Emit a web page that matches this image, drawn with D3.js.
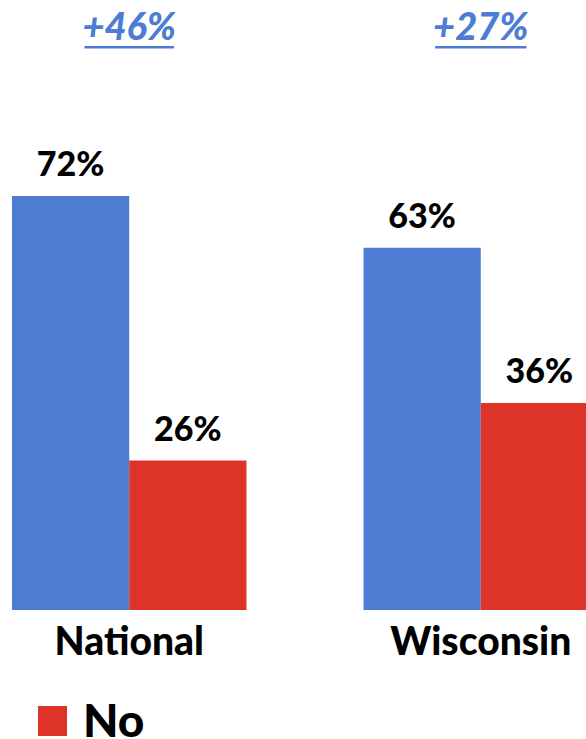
<!DOCTYPE html>
<html>
<head>
<meta charset="utf-8">
<script src="https://cdn.jsdelivr.net/npm/d3@7"></script>
<style>
  body { margin: 0; background: #fff; }
  svg { display: block; font-family: Lato, "Open Sans", sans-serif; }
</style>
</head>
<body>
<div id="chart"></div>
<script>
const categories = ["National", "Wisconsin"];
const seriesNames = ["Yes", "No"];
const yesValues = [72, 63];
const noValues = [26, 36];
const marginLabels = ["+46%", "+27%"];

const width = 586;
const height = 739;
const blue = "#4d7dd3";
const red = "#dd3328";
const heavy = 900;

const svg = d3.select("#chart")
    .append("svg")
    .attr("width", width)
    .attr("height", height);

// the plot runs past the right edge, like the cropped original
const x = d3.scaleBand()
    .domain(categories)
    .range([12, 598])
    .paddingInner(0.333)
    .paddingOuter(0);

const xSub = d3.scaleBand()
    .domain(seriesNames)
    .range([0, x.bandwidth()]);

const y = d3.scaleLinear()
    .domain([0, 100])
    .range([610, 35]);

const colour = d3.scaleOrdinal().domain(seriesNames).range([blue, red]);

const rows = categories.map((c, i) => ({
    category: c,
    margin: marginLabels[i],
    values: [
        { key: "Yes", value: yesValues[i] },
        { key: "No", value: noValues[i] }
    ]
}));

const group = svg.selectAll("g.group")
    .data(rows)
    .enter()
    .append("g")
    .attr("class", "group")
    .attr("transform", d => `translate(${x(d.category)},0)`);

group.selectAll("rect")
    .data(d => d.values)
    .enter()
    .append("rect")
    .attr("x", d => xSub(d.key))
    .attr("y", d => y(d.value))
    .attr("width", xSub.bandwidth())
    .attr("height", d => y(0) - y(d.value))
    .attr("fill", d => colour(d.key));

group.selectAll("text.value")
    .data(d => d.values)
    .enter()
    .append("text")
    .attr("class", "value")
    .attr("x", d => xSub(d.key) + xSub.bandwidth() / 2)
    .attr("y", d => y(d.value) - 20)
    .attr("text-anchor", "middle")
    .attr("font-size", 34)
    .attr("font-weight", heavy)
    .attr("fill", "#000")
    .text(d => d.value + "%");

// category names under the bars
group.append("text")
    .attr("x", x.bandwidth() / 2)
    .attr("y", 655)
    .attr("text-anchor", "middle")
    .attr("font-size", 39)
    .attr("font-weight", heavy)
    .attr("fill", "#000")
    .text(d => d.category);

// lead over "No", underlined at the top
const lead = group.append("text")
    .attr("x", x.bandwidth() / 2)
    .attr("y", 40)
    .attr("text-anchor", "middle")
    .attr("font-size", 38)
    .attr("font-weight", heavy)
    .attr("font-style", "italic")
    .attr("fill", blue)
    .text(d => d.margin);

lead.each(function () {
    const box = this.getBBox();
    d3.select(this.parentNode).append("rect")
        .attr("x", box.x + 2)
        .attr("y", 46)
        .attr("width", box.width - 4)
        .attr("height", 2.5)
        .attr("fill", blue);
});

// legend (only the "No" entry is in frame)
const legend = svg.append("g").attr("transform", "translate(38,706)");
legend.append("rect")
    .attr("width", 29)
    .attr("height", 30)
    .attr("fill", red);
legend.append("text")
    .attr("x", 45)
    .attr("y", 31)
    .attr("font-size", 46)
    .attr("font-weight", heavy)
    .attr("fill", "#000")
    .text(seriesNames[1]);
</script>
</body>
</html>
